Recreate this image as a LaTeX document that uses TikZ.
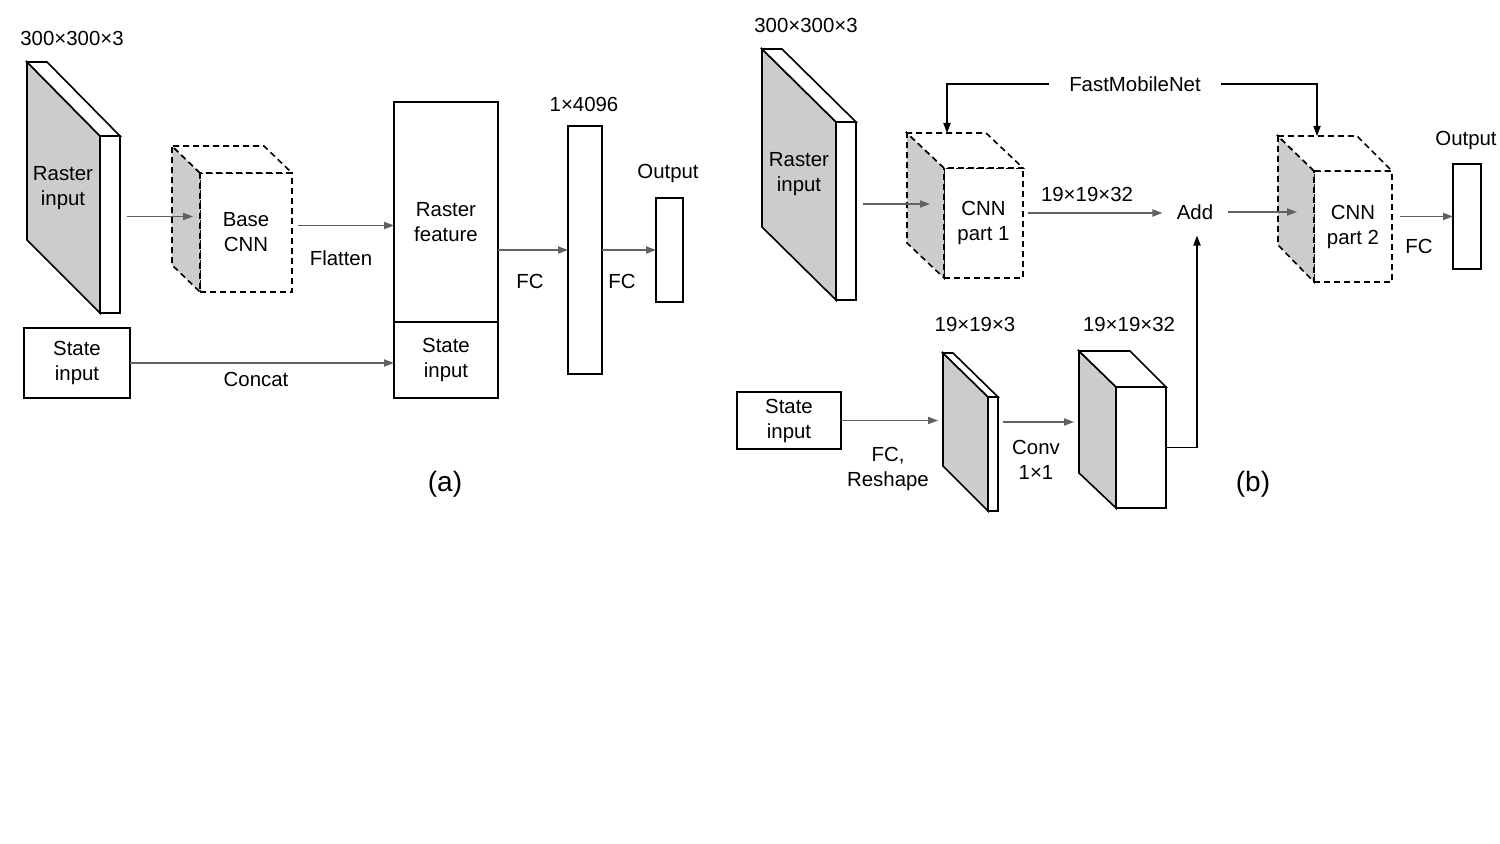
\documentclass[tikz,border=0pt]{standalone}
\usepackage{fontspec}
\setmainfont{Liberation Sans}
\usetikzlibrary{calc,arrows.meta,positioning}

\begin{document}
\begin{tikzpicture}[x=0.5pt,y=-0.5pt,>={Triangle[length=5pt,width=3.6pt]},
  every node/.style={font=\fontsize{10.2}{12.5}\selectfont,align=center},
  box/.style={draw,line width=0.8pt,inner sep=0pt,outer sep=0pt},
  side/.style={draw,line width=0.8pt,fill=black!20},
  topf/.style={draw,line width=0.8pt,fill=white},
  dashline/.style={dash pattern=on 3pt off 2pt},
  flow/.style={->,draw=black!62,line width=0.65pt},
  link/.style={->,line width=0.65pt}]
  \useasboundingbox (0,0) rectangle (1500,844);

  % (a) raster branch
  \node[box,minimum width=10pt,minimum height=88.5pt] (rasA) at (110,224.5) {};
  \draw[side] (rasA.north west) -- ++(-73,-74) -- ++(0,178) -- (rasA.south west) -- cycle;
  \draw[topf] (rasA.north west) -- ++(-73,-74) -- ++(20,0) -- (rasA.north east) -- cycle;
  \node (rasAtxt) at (63,188) {Raster\\input};
  \node (rasAdim) at (72,38) {300×300×3};
  \node[box,dashline,minimum width=46pt,minimum height=59.5pt] (baseA) at (246,232.5) {Base\\CNN};
  \draw[side,dashline] (baseA.north west) -- ++(-28,-27) -- ++(0,119) -- (baseA.south west) -- cycle;
  \draw[topf,dashline] (baseA.north west) -- ++(-28,-27) -- ++(92,0) -- (baseA.north east) -- cycle;
  \draw[flow] ($(rasA.east)+(7,-8)$) -- ($(baseA.west)+(-7,-16)$);
  \node[box,minimum width=52pt,minimum height=110pt] (rfeat) at (446,212) {};
  \node (rfeattxt) at (446,222) {Raster\\feature};
  \node[box,minimum width=52pt,minimum height=38pt,below=0pt of rfeat] (sfeat) {State\\input};
  \draw[flow] ($(baseA.east)+(6,-7)$) coordinate (flA) -- (flA -| rfeat.west);
  \node (flattxt) at (341,258) {Flatten};
  % (a) state branch
  \node[box,minimum width=53pt,minimum height=35pt] (stateA) at (77,363) {State\\input};
  \draw[flow] (stateA.east) -- (stateA.east -| sfeat.west);
  \node (concattxt) at (256,379) {Concat};
  % (a) head
  \node[box,minimum width=17pt,minimum height=124pt] (fcA) at (585,250) {};
  \node (fcAdim) at (584,104) {1×4096};
  \node[box,minimum width=13.5pt,minimum height=52pt] (outA) at (669.5,250) {};
  \node (outAtxt) at (668,173) {Output};
  \draw[flow] (fcA.west -| rfeat.east) -- (fcA.west);
  \draw[flow] (fcA.east) -- (outA.west);
  \node (fcAtxt1) at (530,281) {FC};
  \node (fcAtxt2) at (622,281) {FC};
  \node[font=\fontsize{14}{16}\selectfont] (capA) at (445,484) {(a)};

  % (b) raster branch
  \node[box,minimum width=10pt,minimum height=89pt] (rasB) at (846,211) {};
  \draw[side] (rasB.north west) -- ++(-74,-73) -- ++(0,178) -- (rasB.south west) -- cycle;
  \draw[topf] (rasB.north west) -- ++(-74,-73) -- ++(20,0) -- (rasB.north east) -- cycle;
  \node (rasBtxt) at (799,174) {Raster\\input};
  \node (rasBdim) at (806,25) {300×300×3};
  \node[box,dashline,minimum width=39.5pt,minimum height=55pt] (cnn1) at (983.5,223) {CNN\\part 1};
  \draw[side,dashline] (cnn1.north west) -- ++(-37,-35) -- ++(0,110) -- (cnn1.south west) -- cycle;
  \draw[topf,dashline] (cnn1.north west) -- ++(-37,-35) -- ++(79,0) -- (cnn1.north east) -- cycle;
  \draw[flow] ($(rasB.east)+(7,-7)$) -- ($(cnn1.west)+(-14,-19)$);
  \node[inner xsep=7pt] (add) at (1195,212) {Add};
  \draw[flow] ($(cnn1.east)+(5,-10)$) coordinate (c1o) -- (c1o -| add.west);
  \node (c1odim) at (1087,194) {19×19×32};
  \node[box,dashline,minimum width=39pt,minimum height=55.5pt] (cnn2) at (1353,226.5) {CNN\\part 2};
  \draw[side,dashline] (cnn2.north west) -- ++(-36,-35) -- ++(0,109) -- (cnn2.south west) -- cycle;
  \draw[topf,dashline] (cnn2.north west) -- ++(-36,-35) -- ++(79,0) -- (cnn2.north east) -- cycle;
  \draw[flow] (add.east) -- ($(add.east -| cnn2.west)+(-17,0)$);
  \node[box,minimum width=14pt,minimum height=52.5pt] (outB) at (1467,216.5) {};
  \node (outBtxt) at (1466,140) {Output};
  \draw[flow] ($(cnn2.east)+(8,-10)$) coordinate (c2o) -- (c2o -| outB.west);
  \node (fcBtxt) at (1419,246) {FC};
  \node[inner xsep=10pt] (fmn) at (1135,84) {FastMobileNet};
  \draw[link] (fmn.west) -| ($(cnn1.north west)+(3,-35)$);
  \draw[link] (fmn.east) -| ($(cnn2.north west)+(3,-35)$);
  % (b) state branch
  \node[box,minimum width=52pt,minimum height=28.5pt] (stateB) at (789,420.5) {State\\input};
  \node[box,minimum width=5pt,minimum height=57pt] (thin) at (993,454) {};
  \draw[side] (thin.north west) -- ++(-45,-44) -- ++(0,113) -- (thin.south west) -- cycle;
  \draw[topf] (thin.north west) -- ++(-45,-44) -- ++(10,0) -- (thin.north east) -- cycle;
  \node (thindim) at (975,324) {19×19×3};
  \draw[flow] (stateB.east) -- ($(stateB.east -| thin.west)+(-50,0)$);
  \node (fcrtxt) at (888,469) {FC,\\Reshape};
  \node[box,minimum width=25pt,minimum height=60.5pt] (thick) at (1141,447.5) {};
  \draw[side] (thick.north west) -- ++(-37,-36) -- ++(0,122) -- (thick.south west) -- cycle;
  \draw[topf] (thick.north west) -- ++(-37,-36) -- ++(51,0) -- (thick.north east) -- cycle;
  \node (thickdim) at (1129,324) {19×19×32};
  \draw[flow] ($(thin.east)+(5,-32)$) coordinate (tho) -- ($(tho -| thick.west)+(-42,0)$);
  \node (convtxt) at (1036,460) {Conv\\1×1};
  \draw[link] (thick.east) -| ($(add.south)+(2,9)$);
  \node[font=\fontsize{14}{16}\selectfont] (capB) at (1253,484) {(b)};
\end{tikzpicture}
\end{document}
